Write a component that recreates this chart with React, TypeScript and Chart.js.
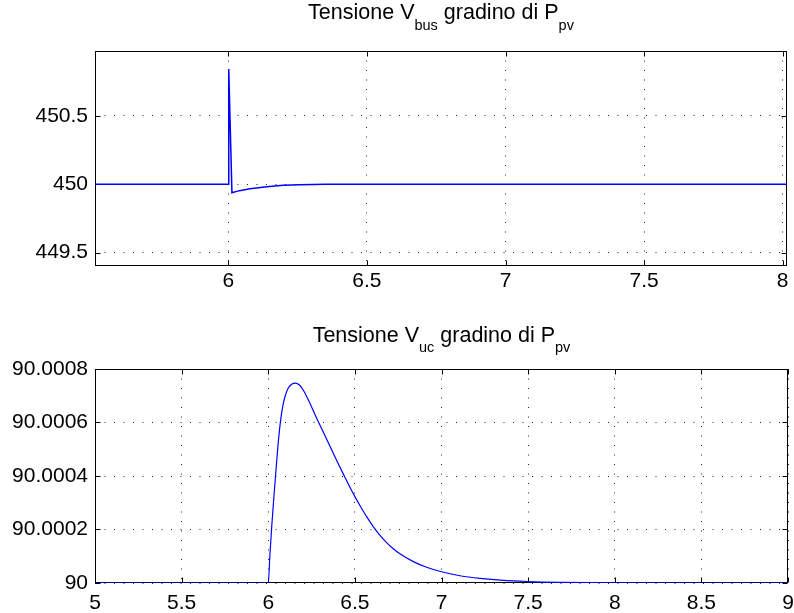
import React, { useEffect, useRef } from 'react';
import { Chart, registerables } from 'chart.js';

Chart.register(...registerables);

// ---- Top panel: Tensione V_bus ----
const vbusTime = [5.0, 6.0, 6.0015, 6.013, 6.04, 6.078, 6.139, 6.198, 6.259, 6.35, 6.5, 7.0, 8.5];
const vbusValue = [450, 450, 450.842, 449.938, 449.953, 449.966, 449.982, 449.992, 449.996, 449.999, 450, 450, 450];
const vbusXRange = [5.519, 8.0155];
const vbusYRange = [449.402, 450.974];
const vbusXTicks = [6, 6.5, 7, 7.5, 8];
const vbusXTickLabels = ['6', '6.5', '7', '7.5', '8'];
const vbusYTicks = [449.5, 450, 450.5];
const vbusYTickLabels = ['449.5', '450', '450.5'];
const vbusTitle: [string, boolean][] = [['Tensione V', false], ['bus', true], [' gradino di P', false], ['pv', true]];

// ---- Bottom panel: Tensione V_uc ----
const vucTime = [5.0, 6.0, 6.01, 6.02, 6.03, 6.042, 6.055, 6.068, 6.082, 6.098, 6.115, 6.135, 6.157, 6.18, 6.205, 6.231, 6.26, 6.289, 6.325, 6.366, 6.4, 6.439, 6.47, 6.501, 6.53, 6.567, 6.607, 6.645, 6.683, 6.72, 6.76, 6.837, 6.914, 7.0, 7.107, 7.222, 7.357, 7.501, 7.684, 7.85, 8.0, 8.5, 9.0];
const vucValue = [90, 90, 90.00011, 90.00021, 90.0003, 90.0004, 90.000505, 90.00059, 90.000655, 90.0007, 90.000728, 90.000743, 90.000747, 90.00074, 90.000718, 90.000685, 90.000644, 90.000603, 90.000554, 90.000498, 90.000451, 90.0004, 90.00036, 90.000322, 90.000289, 90.000249, 90.00021, 90.000178, 90.000151, 90.000129, 90.000109, 90.00008, 90.000059, 90.000042, 90.000027, 90.000017, 90.0000095, 90.0000054, 90.0000025, 90.0000012, 90.0000006, 90.00000007, 90];
const vucXRange = [5, 9];
const vucYRange = [90, 90.0008];
const vucXTicks = [5, 5.5, 6, 6.5, 7, 7.5, 8, 8.5, 9];
const vucXTickLabels = ['5', '5.5', '6', '6.5', '7', '7.5', '8', '8.5', '9'];
const vucYTicks = [90, 90.0002, 90.0004, 90.0006, 90.0008];
const vucYTickLabels = ['90', '90.0002', '90.0004', '90.0006', '90.0008'];
const vucTitle: [string, boolean][] = [['Tensione V', false], ['uc', true], [' gradino di P', false], ['pv', true]];

const FAMILY = '"Liberation Sans", Arial, Helvetica, sans-serif';

function framePlugin(title: [string, boolean][], baseline: number, subBaseline: number) {
  return {
    id: 'matlabFrame',
    beforeDatasetsDraw(chart: any) {
      const { ctx, chartArea, scales } = chart;
      const l = Math.round(chartArea.left) + 0.5;
      const r = Math.round(chartArea.right) - 0.5;
      const t = Math.round(chartArea.top) + 0.5;
      const b = Math.round(chartArea.bottom) - 0.5;
      ctx.save();
      ctx.strokeStyle = '#000';
      ctx.lineWidth = 1;
      ctx.setLineDash([]);
      ctx.beginPath();
      const tl = 5;
      scales.x.ticks.forEach((tk: any) => {
        const px = Math.round(scales.x.getPixelForValue(tk.value)) + 0.5;
        ctx.moveTo(px, b); ctx.lineTo(px, b - tl);
        ctx.moveTo(px, t); ctx.lineTo(px, t + tl);
      });
      scales.y.ticks.forEach((tk: any) => {
        const py = Math.round(scales.y.getPixelForValue(tk.value)) + 0.5;
        ctx.moveTo(l, py); ctx.lineTo(l + tl, py);
        ctx.moveTo(r, py); ctx.lineTo(r - tl, py);
      });
      ctx.stroke();
      ctx.strokeRect(l, t, r - l, b - t);
      ctx.restore();
    },
    afterDraw(chart: any) {
      const { ctx, chartArea } = chart;
      const mainFont = `21.5px ${FAMILY}`;
      const subFont = `14.5px ${FAMILY}`;
      ctx.save();
      let total = 0;
      const widths = title.map(([txt, sub]) => {
        ctx.font = sub ? subFont : mainFont;
        const w = ctx.measureText(txt).width;
        total += w;
        return w;
      });
      let x = (chartArea.left + chartArea.right) / 2 - total / 2;
      ctx.fillStyle = '#000';
      ctx.textBaseline = 'alphabetic';
      ctx.textAlign = 'left';
      title.forEach(([txt, sub], i) => {
        ctx.font = sub ? subFont : mainFont;
        ctx.fillText(txt, x, sub ? subBaseline : baseline);
        x += widths[i];
      });
      ctx.restore();
    },
  };
}

function makeConfig(opts: {
  time: number[]; value: number[]; xRange: number[]; yRange: number[];
  xTicks: number[]; xLabels: string[]; yTicks: number[]; yLabels: string[];
  padTop: number; padRight: number; xHeight: number; xPad: number; lineWidth: number;
  title: [string, boolean][]; baseline: number; subBaseline: number; smooth: boolean;
}): any {
  const gridCommon = {
    color: 'rgba(0,0,0,0.85)',
    lineWidth: 1,
    drawTicks: false,
  };
  return {
    type: 'line',
    data: {
      datasets: [{
        data: opts.time.map((t, i) => ({ x: t, y: opts.value[i] })),
        borderColor: '#0000ff',
        borderWidth: opts.lineWidth,
        pointRadius: 0,
        fill: false,
        tension: 0,
        cubicInterpolationMode: opts.smooth ? 'monotone' : 'default',
      }],
    },
    options: {
      animation: false,
      responsive: false,
      events: [],
      layout: { padding: { left: 0, top: opts.padTop, right: opts.padRight, bottom: 0 } },
      plugins: { legend: { display: false }, title: { display: false }, tooltip: { enabled: false } },
      scales: {
        x: {
          type: 'linear',
          min: opts.xRange[0],
          max: opts.xRange[1],
          afterBuildTicks: (s: any) => { s.ticks = opts.xTicks.map((v) => ({ value: v })); },
          afterFit: (s: any) => { s.height = opts.xHeight; s.paddingLeft = 0; s.paddingRight = 0; },
          ticks: {
            autoSkip: false,
            maxRotation: 0,
            padding: opts.xPad,
            color: '#000',
            font: { family: FAMILY, size: 21 },
            callback: (v: number) => { const i = opts.xTicks.indexOf(v); return i >= 0 ? opts.xLabels[i] : ''; },
          },
          grid: gridCommon,
          border: { display: false, dash: [1, 8.5] },
        },
        y: {
          type: 'linear',
          min: opts.yRange[0],
          max: opts.yRange[1],
          afterBuildTicks: (s: any) => { s.ticks = opts.yTicks.map((v) => ({ value: v })); },
          afterFit: (s: any) => { s.width = 95; s.paddingTop = 0; s.paddingBottom = 0; },
          ticks: {
            autoSkip: false,
            padding: 7,
            color: '#000',
            font: { family: FAMILY, size: 21 },
            callback: (v: number) => { const i = opts.yTicks.indexOf(v); return i >= 0 ? opts.yLabels[i] : ''; },
          },
          grid: gridCommon,
          border: { display: false, dash: [1, 8.5] },
        },
      },
    },
    plugins: [framePlugin(opts.title, opts.baseline, opts.subBaseline)],
  };
}

export default function App() {
  const topRef = useRef<HTMLCanvasElement>(null);
  const botRef = useRef<HTMLCanvasElement>(null);

  useEffect(() => {
    const top = new Chart(topRef.current as HTMLCanvasElement, makeConfig({
      time: vbusTime, value: vbusValue, xRange: vbusXRange, yRange: vbusYRange,
      xTicks: vbusXTicks, xLabels: vbusXTickLabels, yTicks: vbusYTicks, yLabels: vbusYTickLabels,
      padTop: 51, padRight: 7, xHeight: 34, xPad: 3, lineWidth: 1.5,
      title: vbusTitle, baseline: 18.5, subBaseline: 30, smooth: false,
    }));
    const bot = new Chart(botRef.current as HTMLCanvasElement, makeConfig({
      time: vucTime, value: vucValue, xRange: vucXRange, yRange: vucYRange,
      xTicks: vucXTicks, xLabels: vucXTickLabels, yTicks: vucYTicks, yLabels: vucYTickLabels,
      padTop: 69, padRight: 6, xHeight: 30, xPad: 7.5, lineWidth: 1.2,
      title: vucTitle, baseline: 41.7, subBaseline: 52, smooth: true,
    }));
    return () => { top.destroy(); bot.destroy(); };
  }, []);

  return (
    <div style={{ position: 'absolute', left: 0, top: 0, width: 794, height: 613, background: '#fff' }}>
      <canvas ref={topRef} width={794} height={300} style={{ position: 'absolute', left: 0, top: 0, width: 794, height: 300 }} />
      <canvas ref={botRef} width={794} height={313} style={{ position: 'absolute', left: 0, top: 300, width: 794, height: 313 }} />
    </div>
  );
}
